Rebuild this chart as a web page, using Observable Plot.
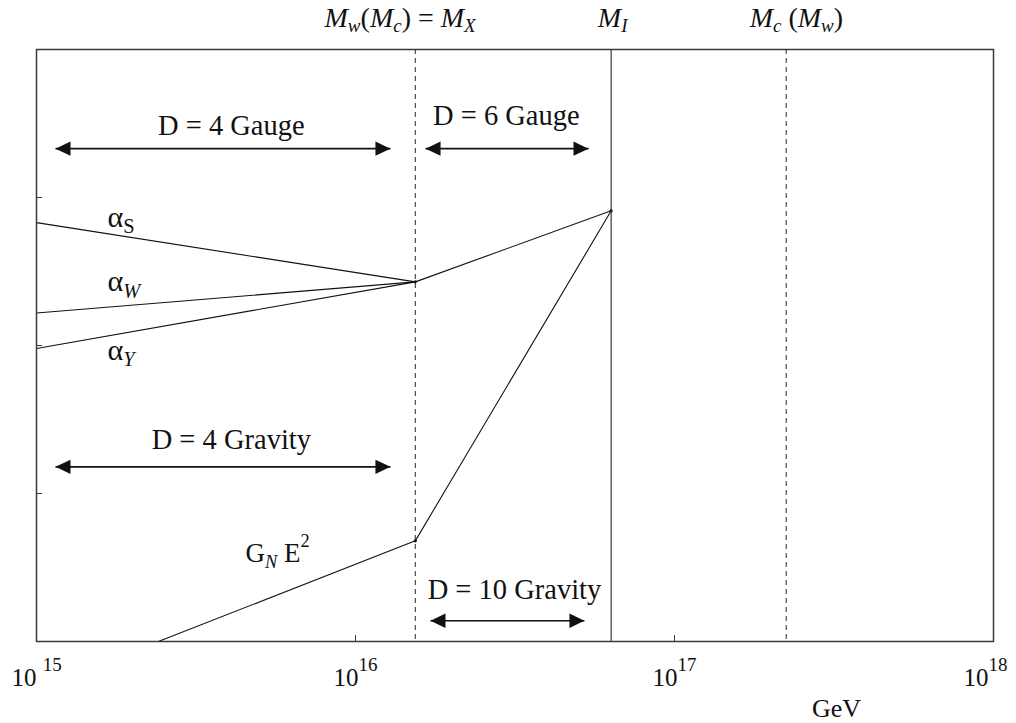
<!DOCTYPE html>
<html><head><meta charset="utf-8">
<script src="https://cdn.jsdelivr.net/npm/d3@7"></script>
<script src="https://cdn.jsdelivr.net/npm/@observablehq/plot@0.6"></script>
<style>html,body{margin:0;padding:0;background:#fff}svg{display:block}</style>
</head><body><div id="chart"></div>
<script>
// ---------- data ----------
// Mass scales (GeV)
const markerKeys = ["MX", "MI", "Mc"];
const markerEnergies = [1.54e16, 6.33e16, 2.24e17];
const markerDashed = [true, false, true];
const markerLabelX = [1.38e16, 6.4e16, 2.41e17];

// Running couplings (arbitrary units, 0..4)
const alphaSE = [1e15, 1.54e16], alphaSV = [2.83, 2.43];
const alphaWE = [1e15, 1.54e16], alphaWV = [2.22, 2.43];
const alphaYE = [1e15, 1.54e16], alphaYV = [1.98, 2.43];
const unifiedE = [1.54e16, 6.33e16], unifiedV = [2.43, 2.91];
const gravityE = [2.41e15, 1.54e16, 6.33e16], gravityV = [0, 0.68, 2.91];

// Curve labels
const alphaKeys = ["aS", "aW", "aY"];
const alphaLabelE = [1.67e15, 1.67e15, 1.67e15];
const alphaLabelV = [2.80, 2.365, 1.905];
const gravityKeys = ["GN"];
const gravityLabelE = [4.52e15];
const gravityLabelV = [0.534];

// Regime arrows
const arrowNames = ["D = 4 Gauge", "D = 6 Gauge", "D = 4 Gravity", "D = 10 Gravity"];
const arrowFrom = [1.147e15, 1.658e16, 1.147e15, 1.718e16];
const arrowTo = [1.287e16, 5.376e16, 1.287e16, 5.22e16];
const arrowLevel = [3.33, 3.33, 1.18, 0.14];
const arrowLabelE = [4.08e15, 2.97e16, 4.08e15, 3.15e16];
const arrowLabelV = [3.42, 3.49, 1.30, 0.29];

// Axis ticks
const xTickValues = [1e15, 1e16, 1e17, 1e18];
const xTickExp = ["15", "16", "17", "18"];
const xInnerTicks = [1e16, 1e17];
const yInnerTicks = [1, 2, 3];
const xUnit = "GeV";
const xUnitE = 3.22e17;

// ---------- tables ----------
const line = (E, V) => E.map((e, i) => ({e, v: V[i]}));
const markers = markerKeys.map((k, i) => ({k, e: markerEnergies[i], dashed: markerDashed[i], lx: markerLabelX[i]}));
const arrows = arrowNames.map((n, i) => ({n, a: arrowFrom[i], b: arrowTo[i], v: arrowLevel[i], le: arrowLabelE[i], lv: arrowLabelV[i]}));
const alphaLabels = alphaKeys.map((k, i) => ({k, e: alphaLabelE[i], v: alphaLabelV[i]}));
const gravityLabels = gravityKeys.map((k, i) => ({k, e: gravityLabelE[i], v: gravityLabelV[i]}));
const nodes = [{e: unifiedE[0], v: unifiedV[0]}, {e: unifiedE[1], v: unifiedV[1]}, {e: gravityE[1], v: gravityV[1]}];
const ticks = xTickValues.map((x, i) => ({x, k: "10^" + xTickExp[i]}));

// rich-text markup: [text, flags] with flags "", "i", "sub", "isub", "sup", "bigsup"
const rich = new Map([
  ["MX", [["M","i"],["w","isub"],["(",""],["M","i"],["c","isub"],[") = ",""],["M","i"],["X","isub"]]],
  ["MI", [["M","i"],["I","isub"]]],
  ["Mc", [["M","i"],["c","isub"],[" (",""],["M","i"],["w","isub"],[")",""]]],
  ["aS", [["α",""],["S","sub"]]],
  ["aW", [["α",""],["W","isub"]]],
  ["aY", [["α",""],["Y","isub"]]],
  ["GN", [["G",""],["N","isub"],[" E",""],["2","sup"]]],
  ...xTickExp.map(x => ["10^" + x, [[x === "15" ? "10 " : "10",""],[x,"bigsup"]]])
]);

// arrowhead symbols (apex at the anchor point)
const headRight = {draw(ctx, size) { const r = Math.sqrt(size / Math.PI); const L = 2.5 * r, W = 1.2 * r;
  ctx.moveTo(0, 0); ctx.lineTo(-L, -W); ctx.lineTo(-L, W); ctx.closePath(); }};
const headLeft = {draw(ctx, size) { const r = Math.sqrt(size / Math.PI); const L = 2.5 * r, W = 1.2 * r;
  ctx.moveTo(0, 0); ctx.lineTo(L, -W); ctx.lineTo(L, W); ctx.closePath(); }};

const ink = "#111";
const frameInk = "#3a3a3a";
const txt = {lineAnchor: "bottom", fill: ink};

const chart = Plot.plot({
  width: 1016, height: 723,
  marginLeft: 36, marginRight: 23, marginTop: 49, marginBottom: 82,
  x: {type: "log", domain: [1e15, 1e18]},
  y: {domain: [0, 4]},
  style: {fontFamily: "'Liberation Serif','Times New Roman',serif", color: ink, background: "#fff", overflow: "visible"},
  marks: [
    Plot.axisX(xInnerTicks, {tickSize: -6, tickFormat: () => "", label: null, stroke: frameInk}),
    Plot.axisY(yInnerTicks, {tickSize: -6, tickFormat: () => "", label: null, stroke: frameInk}),
    Plot.ruleX(markers.filter(d => d.dashed), {x: "e", stroke: frameInk, strokeWidth: 1.1, strokeDasharray: "5,4"}),
    Plot.ruleX(markers.filter(d => !d.dashed), {x: "e", stroke: frameInk, strokeWidth: 1.2}),
    Plot.line(line(alphaSE, alphaSV), {x: "e", y: "v", stroke: ink, strokeWidth: 1.1}),
    Plot.line(line(alphaWE, alphaWV), {x: "e", y: "v", stroke: ink, strokeWidth: 1.1}),
    Plot.line(line(alphaYE, alphaYV), {x: "e", y: "v", stroke: ink, strokeWidth: 1.1}),
    Plot.line(line(unifiedE, unifiedV), {x: "e", y: "v", stroke: ink, strokeWidth: 1.1}),
    Plot.line(line(gravityE, gravityV), {x: "e", y: "v", stroke: ink, strokeWidth: 1.1}),
    Plot.dot(nodes, {x: "e", y: "v", r: 1.6, fill: ink}),
    Plot.link(arrows, {x1: "a", x2: "b", y1: "v", y2: "v", stroke: ink, strokeWidth: 1.6}),
    Plot.dot(arrows, {x: "a", y: "v", r: 6, symbol: headLeft, fill: ink}),
    Plot.dot(arrows, {x: "b", y: "v", r: 6, symbol: headRight, fill: ink}),
    Plot.text(arrows, {...txt, x: "le", y: "lv", text: "n", fontSize: 28.5, textAnchor: "middle"}),
    Plot.text(alphaLabels, {...txt, x: "e", y: "v", text: "k", fontSize: 30, textAnchor: "start"}),
    Plot.text(gravityLabels, {...txt, x: "e", y: "v", text: "k", fontSize: 27, textAnchor: "start"}),
    Plot.text(markers, {...txt, x: "lx", text: "k", frameAnchor: "top", dy: -23, fontSize: 28, textAnchor: "middle"}),
    Plot.text(ticks.slice(0, 3), {...txt, x: "x", text: "k", frameAnchor: "bottom", dy: 44, fontSize: 25, textAnchor: "middle"}),
    Plot.text(ticks.slice(3), {...txt, x: "x", text: "k", frameAnchor: "bottom", dy: 44, dx: -8, fontSize: 25, textAnchor: "middle"}),
    Plot.text([xUnit], {...txt, x: () => xUnitE, text: d => d, frameAnchor: "bottom", dy: 75, fontSize: 26, textAnchor: "middle"}),
    Plot.frame({stroke: frameInk, strokeWidth: 1.5})
  ]
});

// convert key texts into rich text with italics, sub- and superscripts
const NS = "http://www.w3.org/2000/svg";
chart.querySelectorAll("text").forEach(el => {
  const parts = rich.get(el.textContent.trim());
  if (!parts) return;
  let base = 24;
  for (let n = el; n && n !== chart; n = n.parentNode) {
    const fs = n.getAttribute && n.getAttribute("font-size");
    if (fs) { base = parseFloat(fs); break; }
  }
  while (el.firstChild) el.removeChild(el.firstChild);
  let shift = 0;
  for (const [s, f] of parts) {
    const t = document.createElementNS(NS, "tspan");
    let target = 0, size = base;
    if (f.includes("sub")) { target = 0.21 * base; size = 0.68 * base; }
    if (f === "sup") { target = -0.56 * base; size = 0.68 * base; }
    if (f === "bigsup") { target = -0.6 * base; size = 0.76 * base; }
    t.setAttribute("dy", (target - shift).toFixed(2));
    shift = target;
    t.setAttribute("font-size", size.toFixed(1));
    if (f.startsWith("i")) t.setAttribute("font-style", "italic");
    t.textContent = s;
    el.appendChild(t);
  }
});
document.getElementById("chart").appendChild(chart);
</script>
</body></html>
